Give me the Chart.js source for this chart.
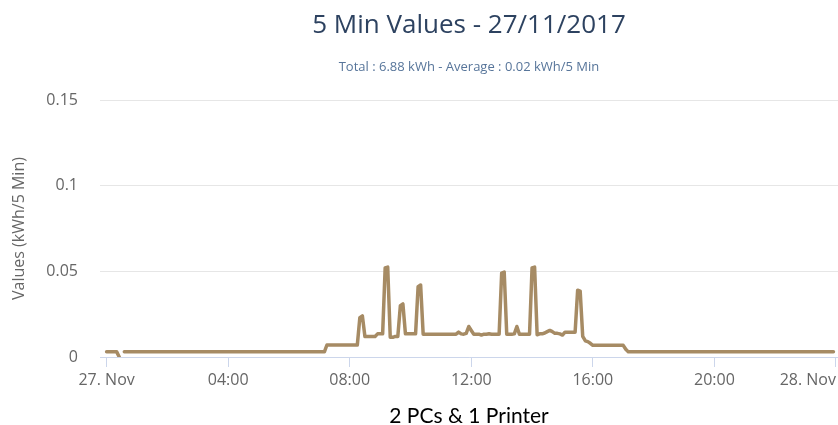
<!DOCTYPE html>
<html>
<head>
<meta charset="utf-8">
<script src="https://cdn.jsdelivr.net/npm/chart.js@4.4.1/dist/chart.umd.min.js"></script>
<style>
    html, body { margin: 0; padding: 0; background: #ffffff; }
    #wrap { width: 838px; height: 425px; position: relative; }
</style>
</head>
<body>
<div id="wrap"><canvas id="myChart"></canvas></div>
<script>
// 5 minute readings for 27/11/2017, one row per hour (12 values each)
const values = [
    0.003, 0.003, 0.003, 0.003, 0.003, 0, null, 0.003, 0.003, 0.003, 0.003, 0.003,
    0.003, 0.003, 0.003, 0.003, 0.003, 0.003, 0.003, 0.003, 0.003, 0.003, 0.003, 0.003,
    0.003, 0.003, 0.003, 0.003, 0.003, 0.003, 0.003, 0.003, 0.003, 0.003, 0.003, 0.003,
    0.003, 0.003, 0.003, 0.003, 0.003, 0.003, 0.003, 0.003, 0.003, 0.003, 0.003, 0.003,
    0.003, 0.003, 0.003, 0.003, 0.003, 0.003, 0.003, 0.003, 0.003, 0.003, 0.003, 0.003,
    0.003, 0.003, 0.003, 0.003, 0.003, 0.003, 0.003, 0.003, 0.003, 0.003, 0.003, 0.003,
    0.003, 0.003, 0.003, 0.003, 0.003, 0.003, 0.003, 0.003, 0.003, 0.003, 0.003, 0.003,
    0.003, 0.003, 0.003, 0.007, 0.007, 0.007, 0.007, 0.007, 0.007, 0.007, 0.007, 0.007,
    0.007, 0.007, 0.007, 0.007, 0.023, 0.024, 0.012, 0.012, 0.012, 0.012, 0.012, 0.0135,
    0.0135, 0.0135, 0.052, 0.0525, 0.0115, 0.0115, 0.012, 0.012, 0.030, 0.031, 0.0135, 0.0135,
    0.0135, 0.0135, 0.0135, 0.041, 0.042, 0.0133, 0.0133, 0.0133, 0.0133, 0.0133, 0.0133, 0.0133,
    0.0133, 0.0133, 0.0133, 0.0133, 0.0133, 0.0133, 0.0133, 0.0145, 0.0135, 0.0133, 0.0138, 0.0178,
    0.0155, 0.0133, 0.0133, 0.0133, 0.0128, 0.0133, 0.0133, 0.0136, 0.0133, 0.0133, 0.0133, 0.0133,
    0.049, 0.0496, 0.0133, 0.0133, 0.0133, 0.0135, 0.0178, 0.0133, 0.0133, 0.0133, 0.0133, 0.0133,
    0.052, 0.0525, 0.013, 0.0135, 0.0135, 0.014, 0.0148, 0.0155, 0.0148, 0.0138, 0.0138, 0.0135,
    0.0128, 0.0145, 0.0145, 0.0145, 0.0145, 0.0145, 0.039, 0.0385, 0.012, 0.0095, 0.009, 0.008,
    0.0068, 0.0068, 0.0068, 0.0068, 0.0068, 0.0068, 0.0068, 0.0068, 0.0068, 0.0068, 0.0068, 0.0068,
    0.0068, 0.0045, 0.003, 0.003, 0.003, 0.003, 0.003, 0.003, 0.003, 0.003, 0.003, 0.003,
    0.003, 0.003, 0.003, 0.003, 0.003, 0.003, 0.003, 0.003, 0.003, 0.003, 0.003, 0.003,
    0.003, 0.003, 0.003, 0.003, 0.003, 0.003, 0.003, 0.003, 0.003, 0.003, 0.003, 0.003,
    0.003, 0.003, 0.003, 0.003, 0.003, 0.003, 0.003, 0.003, 0.003, 0.003, 0.003, 0.003,
    0.003, 0.003, 0.003, 0.003, 0.003, 0.003, 0.003, 0.003, 0.003, 0.003, 0.003, 0.003,
    0.003, 0.003, 0.003, 0.003, 0.003, 0.003, 0.003, 0.003, 0.003, 0.003, 0.003, 0.003,
    0.003, 0.003, 0.003, 0.003, 0.003, 0.003, 0.003, 0.003, 0.003, 0.003, 0.003, 0.003
];
const stepMinutes = 5;

// x axis is minutes since midnight
const xTickValues = [0, 240, 480, 720, 960, 1200, 1440];
const xTickLabels = ['27. Nov', '04:00', '08:00', '12:00', '16:00', '20:00', '28. Nov'];
const yTickValues = [0, 0.05, 0.1, 0.15];
const yTickLabels = ['0', '0.05', '0.1', '0.15'];

const points = values.map((v, i) => ({ x: i * stepMinutes, y: v }));

const ctx = document.getElementById('myChart').getContext('2d');

let myChart = new Chart(ctx, {
    type: 'line',
    data: {
        datasets: [{
            data: points,
            borderColor: '#a68b64',
            borderWidth: 3.5,
            borderJoinStyle: 'round',
            borderCapStyle: 'round',
            pointRadius: 0,
            tension: 0,
            spanGaps: false,
            fill: false
        }]
    },
    options: {
        responsive: true,
        maintainAspectRatio: false,
        animation: false,
        layout: { padding: 0 },
        plugins: {
            legend: { display: false },
            tooltip: { enabled: false },
            title: {
                display: true,
                text: '5 Min Values - 27/11/2017',
                fullSize: false,
                color: '#2d4260',
                font: { family: 'Open Sans', size: 26, weight: 'normal' },
                padding: { top: 9.9, bottom: 0 }
            },
            subtitle: {
                display: true,
                text: 'Total : 6.88 kWh - Average : 0.02 kWh/5 Min',
                fullSize: false,
                color: '#57759a',
                font: { family: 'Open Sans', size: 13 },
                padding: { top: 18.1, bottom: 25.2 }
            }
        },
        scales: {
            x: {
                type: 'linear',
                min: -13,
                max: 1444,
                // first tick is a blank spacer so "inner" only affects the last label
                afterBuildTicks: (scale) => {
                    scale.ticks = [{ value: -13 }].concat(xTickValues.map(v => ({ value: v })));
                },
                afterFit: (scale) => {
                    scale.height = 68;
                    scale.paddingLeft = 0;
                    scale.paddingRight = 0;
                },
                ticks: {
                    autoSkip: false,
                    maxRotation: 0,
                    align: 'inner',
                    padding: 3.4,
                    color: '#666666',
                    font: { family: 'Open Sans', size: 16 },
                    callback: (value) => {
                        const k = xTickValues.indexOf(value);
                        return k < 0 ? '' : xTickLabels[k];
                    }
                },
                grid: {
                    display: true,
                    drawOnChartArea: false,
                    drawTicks: true,
                    tickLength: 10,
                    tickColor: (c) => c.index === 0 ? 'rgba(0,0,0,0)' : '#ccd6eb'
                },
                border: { display: true, color: '#ccd6eb', width: 1 },
                title: {
                    display: true,
                    text: '2 PCs & 1 Printer',
                    color: '#000000',
                    font: { family: 'Lato', size: 21, lineHeight: 0.8 },
                    padding: { top: 0, bottom: 0 }
                }
            },
            y: {
                min: 0,
                max: 0.15,
                afterBuildTicks: (scale) => {
                    scale.ticks = yTickValues.map(v => ({ value: v }));
                },
                afterFit: (scale) => {
                    scale.width = 100;
                },
                ticks: {
                    padding: 22,
                    color: '#666666',
                    font: { family: 'Open Sans', size: 16 },
                    callback: (value) => {
                        const k = yTickValues.indexOf(value);
                        return k < 0 ? '' : yTickLabels[k];
                    }
                },
                grid: {
                    color: '#e6e6e6',
                    drawTicks: false
                },
                border: { display: false },
                title: {
                    display: true,
                    text: 'Values (kWh/5 Min)',
                    color: '#666666',
                    font: { family: 'Open Sans', size: 16 },
                    padding: { top: 9.9, bottom: 0 }
                }
            }
        }
    }
});
</script>
</body>
</html>
